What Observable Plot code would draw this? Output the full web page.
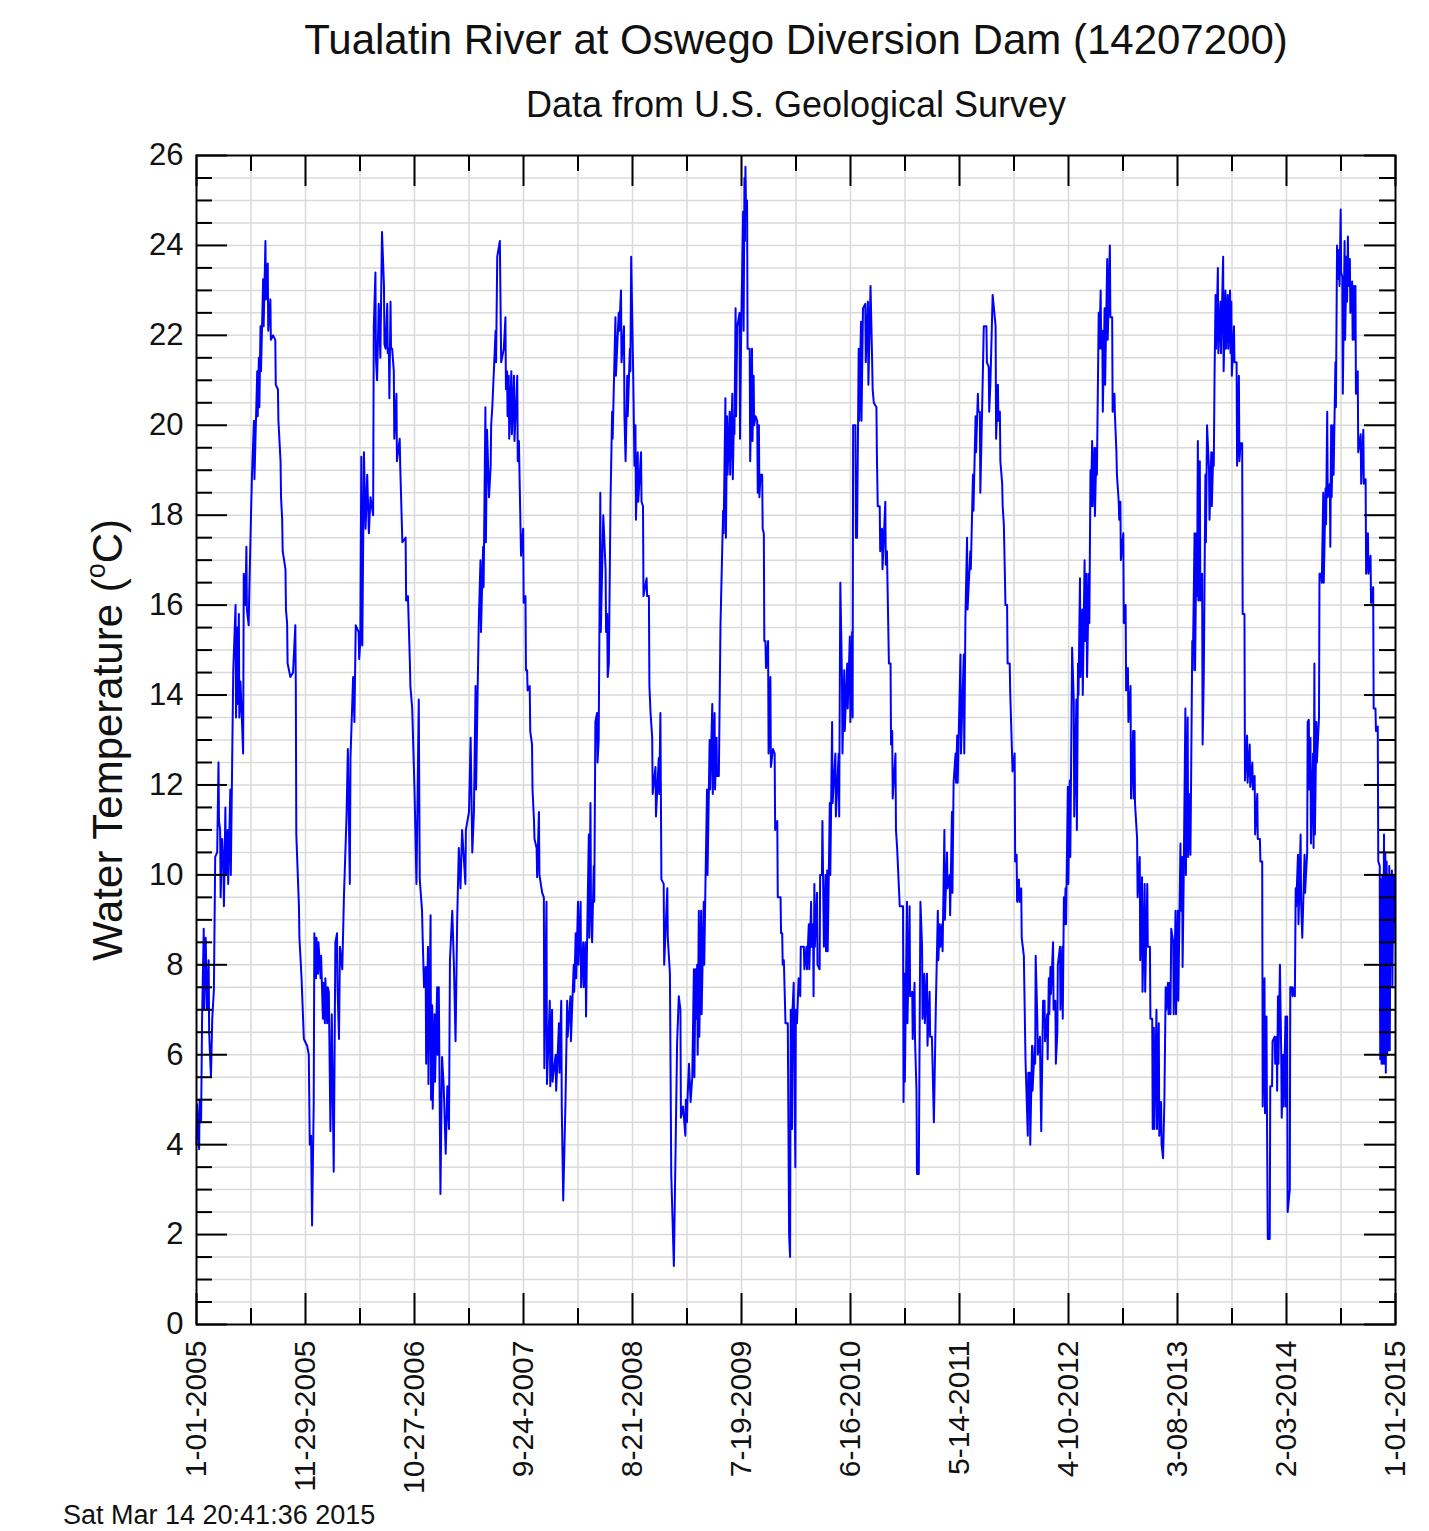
<!DOCTYPE html>
<html><head><meta charset="utf-8">
<script src="https://cdn.jsdelivr.net/npm/d3@7"></script>
<script src="https://cdn.jsdelivr.net/npm/@observablehq/plot@0.6"></script>
<style>
html,body{margin:0;padding:0;background:#fff;overflow:hidden;width:1429px;height:1531px;}
body{font-family:"Liberation Sans",Arial,Helvetica,sans-serif;color:#111;}
#header{position:relative;height:140px;}
.t{position:absolute;white-space:nowrap;transform:translateX(-50%);line-height:1;}
#title{left:796px;top:19px;font-size:42px;}
#subtitle{left:796px;top:87px;font-size:36px;}
#footer{font-size:27px;line-height:1;padding-left:63px;margin-top:-8px;white-space:nowrap;}
#chart svg{display:block;}
</style></head>
<body>
<div id="header"><div id="title" class="t">Tualatin River at Oswego Diversion Dam (14207200)</div><div id="subtitle" class="t">Data from U.S. Geological Survey</div></div>
<div id="chart"></div>
<div id="footer">Sat Mar 14 20:41:36 2015</div>
<script>
// Tick labels (x) and y ticks
const xLabels = ["1-01-2005","11-29-2005","10-27-2006","9-24-2007","8-21-2008","7-19-2009","6-16-2010","5-14-2011","4-10-2012","3-08-2013","2-03-2014","1-01-2015"];
const yMajor = [0,2,4,6,8,10,12,14,16,18,20,22,24,26];

// Water temperature readings: [day since 1-01-2005, value, optional second value a day later]
const t2005 = [[0,4.0,4.9],[8,3.9,5.0],[14,4.5],[17,6.8],[22,8.8,7.0],[28,8.6],[32,7.0],[37,8.1,6.5],[44,5.5],[48,6.8],[53,7.45],[57,10.4],[63,10.5],[67,12.5,11.2],[72,11.0,9.5],[78,10.8],[82,10.2,9.3],[88,11.5,10.0],[95,11.0,9.8],[103,11.9,10.0],[112,14.55],[119,16.0,13.5],[124,15.5,13.8],[129,15.8,13.5],[134,14.3],[142,12.7],[144,16.7],[149,16.0],[152,17.3,15.9],[159,15.55,16.2],[166,18.0],[169,18.9],[175,20.1,18.8],[185,21.2,20.2],[190,21.5,20.4],[195,22.2,21.2],[203,23.25,22.2],[210,24.1,22.8],[217,23.6,22.1],[225,22.8,21.9],[233,22.0],[240,21.9,20.9],[248,20.8,20.1],[256,19.2,18.4],[261,17.9,17.2],[271,16.8,15.9],[276,15.6,14.7],[286,14.4],[294,14.5],[301,15.55,14.2],[304,10.9],[312,9.3,8.6],[320,7.7],[327,6.35],[337,6.2],[342,6.0],[345,4.0],[349,4.2],[352,2.2],[357,4.9],[359,8.7]];
const t2006 = [[364,7.7,8.6],[370,7.8,8.5],[378,7.7,8.2],[385,6.8,7.6],[391,6.7,7.7],[398,6.7,7.5],[403,7.4],[408,4.3],[412,6.9],[418,3.4],[423,8.5],[428,8.7,7.5],[434,6.35],[437,8.4],[444,7.9],[449,9.5],[457,11.3],[461,12.8],[467,9.8],[469,12.6],[477,14.4],[481,13.4],[485,15.55],[494,15.4,14.8],[499,15.2],[502,19.3],[505,15.1],[510,19.4],[515,17.7],[520,18.9],[525,17.6],[530,18.4],[538,18.0],[540,22.2],[545,23.4,21.5],[550,21.0],[555,22.7],[560,21.5],[565,24.3],[571,23.1,21.8],[576,21.7],[581,22.7,21.6],[586,21.7,20.6],[591,22.75,21.7],[596,21.7],[601,21.2,19.7],[609,20.7,19.2],[619,19.7,19.1],[627,17.4],[637,17.5,16.1],[644,16.2],[650,14.7,14.2],[657,13.7],[664,11.9],[670,9.8],[677,13.9],[680,9.9],[687,9.2,8.7],[693,7.5],[698,7.95,5.8],[705,8.4,5.35],[713,9.1,5.0],[718,7.1,4.8],[725,6.9,5.4]];
const t2007 = [[733,7.5,6.0],[738,7.5],[743,2.9],[748,5.95],[753,5.3],[759,3.8],[764,5.3],[769,4.35],[772,8.1],[779,9.2],[784,8.0],[789,6.3],[794,9.0],[799,10.6],[804,9.7],[809,11.0],[819,9.8,11.0],[830,11.4],[835,13.05],[840,10.5],[845,11.4],[850,14.2,11.9],[857,14.4],[860,15.7],[865,17.0,15.4],[873,17.3,16.4],[880,20.4,17.4],[885,19.9],[891,18.4],[896,19.1,20.0],[901,20.4],[911,22.1,21.4],[916,23.75],[924,24.1],[928,21.4],[936,21.7],[941,22.4,20.8],[946,21.2,20.2],[951,21.1,19.7],[959,21.2,19.8],[967,21.1,19.65],[977,21.1,19.2],[982,19.65],[987,17.7,17.1],[995,17.7,16.05],[1002,16.2,14.55],[1007,14.55,14.1],[1015,14.2,13.2],[1022,12.9,11.9],[1028,11.2,10.8],[1036,10.6,9.95],[1043,11.4,10.0],[1053,9.6],[1058,9.5,5.7],[1066,9.4,5.35],[1076,7.2,5.3],[1083,7.0,5.4],[1094,6.0,5.2]];
const t2008 = [[1104,6.7,5.6],[1111,7.2,4.85],[1117,2.76],[1124,5.0],[1129,7.2,6.4],[1139,7.3,6.3],[1149,8.0,7.4],[1155,8.7,7.7],[1162,9.4,8.0],[1170,9.4,7.5],[1178,8.5,7.5],[1185,8.5,6.85],[1190,8.7],[1195,10.9,8.6],[1200,11.6,9.4],[1205,8.5],[1210,10.2,9.4],[1215,13.4],[1220,13.6,12.5],[1225,13.0],[1230,18.5,15.4],[1239,18.0],[1246,16.8,15.4],[1251,15.8,14.4],[1256,14.7],[1261,18.3],[1266,20.3,19.7],[1276,22.4,21.1],[1286,22.5,22.1],[1293,23.0,21.4],[1302,22.2,20.2],[1307,19.2],[1312,21.1,20.2],[1320,21.7,21.2],[1324,23.75],[1330,21.2],[1334,19.1],[1337,20.0,17.9],[1344,19.4,18.3],[1354,19.4,18.3],[1360,18.2,16.2],[1371,16.6,16.2],[1378,16.2,14.2],[1383,13.6],[1388,13.05,11.8],[1398,12.4,11.3],[1408,12.6,11.8],[1413,13.6],[1416,9.9],[1423,9.8,8.0],[1434,9.7,8.6],[1442,7.8],[1446,3.35],[1454,1.3],[1459,3.8]];
const t2009 = [[1464,6.3],[1469,7.3],[1474,7.0,4.6],[1482,4.85],[1489,4.2,5.0],[1494,4.5,5.0],[1500,5.8],[1505,4.95],[1510,5.5],[1515,7.9,5.5],[1520,7.9,6.8],[1525,8.0,6.0],[1530,9.2,6.4],[1537,9.2,6.9],[1545,9.4,8.0],[1550,9.7],[1555,11.9,10.0],[1563,13.0,11.9],[1571,13.8,11.8],[1578,13.6,11.9],[1584,13.05,12.2],[1591,12.2],[1596,15.55],[1604,18.1,17.6],[1611,20.6,17.5],[1616,20.2,18.9],[1624,20.3,18.9],[1632,20.7,18.8],[1637,20.2,19.8],[1642,22.6,20.2],[1647,22.2],[1654,22.5,19.7],[1659,22.1],[1665,24.75,22.1],[1669,25.5,24.1],[1672,25.75,25.0],[1677,25.0,21.7],[1685,21.7,19.2],[1692,21.7,19.65],[1697,21.1,20.0],[1703,20.2],[1708,20.1,18.5],[1713,20.0,18.4],[1718,18.9],[1723,18.9,17.7],[1728,17.6,15.2],[1733,15.2,14.6],[1741,15.2,12.7],[1748,14.4,12.4],[1756,12.8],[1761,12.7,11.0],[1769,11.2,9.5],[1779,9.5,8.7],[1784,8.7,8.0],[1789,8.1],[1794,6.7],[1801,6.7],[1805,2.0],[1808,1.5]];
const t2010 = [[1810,7.0],[1814,4.35,7.0],[1819,7.6],[1824,3.5,7.0],[1829,6.7],[1834,7.7],[1839,7.3,8.4],[1850,8.4,7.9],[1858,8.4,7.9],[1865,8.9,7.9],[1872,9.4,8.4],[1878,8.9,7.3],[1882,9.8,8.4],[1890,9.6,8.0],[1898,7.9,10.0],[1905,10.0,11.2],[1911,8.4],[1916,10.0,8.3],[1921,10.1,8.3],[1929,11.6,10.0],[1936,13.4,11.6],[1946,12.7,11.3],[1956,12.7,11.3],[1961,16.5],[1966,14.4,12.7],[1973,14.55,13.2],[1982,14.7,13.7],[1990,15.3,13.4],[1997,15.4,13.5],[2000,20.0],[2007,20.0,17.5],[2012,17.5],[2017,21.7,20.1],[2024,22.3,20.1],[2030,22.6],[2037,22.7,21.4],[2045,22.75,20.9],[2053,23.1],[2058,21.4,20.8],[2063,20.5],[2071,20.4,19.3],[2075,18.2],[2081,18.2,17.2],[2088,17.7,16.8],[2098,18.3,16.9],[2103,17.2],[2109,14.7],[2114,14.7,12.9],[2119,13.2,11.7],[2129,12.7,11.0],[2134,10.6],[2142,9.3],[2152,9.3,4.95],[2156,7.8,5.4],[2164,9.4,6.7]];
const t2011 = [[2172,9.3,7.3],[2180,7.4,6.35],[2187,7.6,6.35],[2193,5.2,3.35],[2200,3.35,5.2],[2205,9.4],[2210,8.4,6.8],[2217,7.8,6.7],[2225,7.8,6.2],[2233,7.4,6.4],[2240,6.4],[2246,4.5],[2252,7.1],[2258,9.2,8.1],[2264,8.9,8.4],[2271,8.9,8.3],[2278,11.0,9.0],[2286,10.5,9.7],[2294,10.0,9.1],[2301,11.4,9.6],[2306,12.05],[2312,12.7,12.05],[2317,13.1,12.05],[2327,14.9,12.7],[2337,14.9,12.7],[2342,15.7],[2347,17.5,15.9],[2357,17.2,16.8],[2365,18.9,18.1],[2373,20.2,19.4],[2380,20.7,20.3],[2386,20.3,18.5],[2393,20.4],[2398,22.2],[2406,22.2,21.4],[2413,21.3,20.3],[2418,20.9],[2425,22.9],[2434,22.2,19.7],[2441,20.9,20.1],[2447,20.3,19.2],[2454,18.7,18.2],[2459,17.8,17.3],[2464,16.0],[2469,16.0,14.7],[2477,14.7,14.05],[2484,12.7,12.3],[2492,12.7,10.3],[2498,10.45,9.4],[2505,9.9,9.4],[2512,9.7,8.6],[2520,8.2]];
const t2012 = [[2525,5.9],[2532,4.2,5.6],[2538,5.6,4.0],[2545,6.2,5.2],[2553,6.2,5.8],[2556,8.2],[2561,6.8,6.0],[2569,6.4,5.5],[2573,4.3],[2577,6.4,7.2],[2583,7.2,6.3],[2591,6.9,5.9],[2596,7.7,6.9],[2601,7.95,7.35],[2609,8.5,7.0],[2616,7.2,5.8],[2622,6.5,8.0],[2630,8.4,7.0],[2637,8.4,6.8],[2642,9.5,8.9],[2647,9.7,8.9],[2654,11.96,9.8],[2660,12.1,10.4],[2667,15.05],[2672,13.9,11.3],[2680,13.9,11.0],[2685,14.7,14.0],[2691,16.6,14.4],[2698,15.9,14.0],[2705,17.0,15.2],[2711,16.7,14.4],[2718,16.7,15.6],[2723,19.0,18.2],[2728,19.65,18.2],[2735,19.5,17.98],[2741,19.5,18.9],[2748,22.5,21.7],[2754,23.0,21.7],[2759,22.1,20.3],[2766,22.6,20.9],[2774,23.7,21.9],[2782,24.0,22.4],[2789,22.4,20.3],[2796,20.7,20.2],[2802,19.4,18.9],[2809,18.3,17.9],[2814,18.3,17.0],[2823,17.6,15.6],[2830,16.0,14.1],[2837,14.6,13.4],[2845,14.2,11.7],[2853,13.2,11.7],[2857,13.2,11.6],[2865,10.8,9.5],[2873,10.4,8.1],[2880,9.95,7.4]];
const t2013 = [[2888,9.8,7.4],[2896,9.8,8.4],[2904,8.4,6.8],[2911,6.8,4.35],[2916,6.6,4.35],[2924,7.0,4.35],[2931,6.7,4.2],[2938,4.95,4.0],[2944,3.7],[2948,4.95],[2952,7.5,7.0],[2959,7.6,6.9],[2965,7.6,6.9],[2969,8.8],[2975,8.5,6.9],[2982,9.2,6.9],[2989,9.2,7.2],[2997,10.7,9.2],[3002,10.4,7.95],[3007,10.0],[3012,13.7,10.0],[3019,13.5,10.4],[3026,11.8,10.45],[3033,15.2,14.55],[3040,17.6,14.55],[3046,17.6,16.2],[3050,19.65,16.1],[3056,19.2,16.1],[3063,16.7,12.9],[3068,14.4],[3073,18.9,17.4],[3078,20.0],[3084,19.0,17.9],[3091,19.4,18.2],[3097,19.4,19.1],[3101,21.2],[3104,22.9,21.7],[3111,23.5,21.6],[3119,22.75,21.6],[3127,23.75,21.2],[3134,23.0,21.7],[3141,22.9,21.7],[3148,23.0,21.6],[3152,22.75,21.1],[3160,22.2,21.4],[3168,21.4,19.1],[3175,21.1,19.2],[3180,19.6],[3185,19.6,15.8],[3192,15.8,12.1],[3200,13.1,12.05],[3208,12.9,11.96],[3216,12.5,11.9],[3223,12.2,10.9],[3231,11.8,10.8],[3239,10.8,10.3]];
const t2014 = [[3246,10.3,4.85],[3253,7.7,4.7],[3259,6.85,4.7],[3263,1.9],[3269,1.9,5.3],[3276,5.3,6.3],[3284,6.4,5.8],[3290,6.4,5.2],[3294,7.3,5.8],[3300,8.0],[3304,6.0,4.6],[3310,6.0,4.85],[3317,6.85,4.85],[3322,6.85,2.5],[3330,3.0,7.5],[3337,7.5,7.3],[3344,7.5,7.3],[3348,9.7,9.3],[3355,10.45,8.9],[3363,10.9,9.4],[3368,8.6],[3375,10.45,9.6],[3383,10.5,13.4],[3388,13.45,11.9],[3393,13.05,10.7],[3401,12.7,10.6],[3405,14.7,10.9],[3411,13.4,12.5],[3419,13.5,16.7],[3426,16.7,16.5],[3432,18.5,16.5],[3439,18.6,17.8],[3444,20.3,18.4],[3452,18.7,17.3],[3456,20.0,18.4],[3462,20.0,18.9],[3469,21.4,20.4],[3474,24.0,23.25],[3480,23.9,23.1],[3485,24.8,23.4],[3490,23.3,20.7],[3497,24.1,21.9],[3503,23.75,22.75],[3507,24.2,23.1],[3513,23.7,22.5],[3520,23.2,21.9],[3525,23.1,21.9],[3530,23.1,20.7],[3537,21.2,19.4],[3546,19.8,18.7],[3554,19.9,18.7],[3561,18.8,16.7],[3568,17.6,16.7],[3576,17.1,16.05],[3584,16.4,13.7],[3591,13.7,13.2],[3598,13.3,10.3],[3604,10.2,5.9],[3608,9.9,5.8],[3612,10.0,5.8],[3617,10.9,5.8],[3621,10.5,5.6],[3625,10.3,6.0],[3629,10.0,6.1],[3633,10.2,6.1],[3637,10.0,8.0],[3641,10.1,7.5],[3645,10.0,8.5],[3649,10.0]];

const start = Date.UTC(2005, 0, 1);
const toDate = d => new Date(start + d * 864e5);
const data = [];
for (const [d, a, b] of [t2005,t2006,t2007,t2008,t2009,t2010,t2011,t2012,t2013,t2014].flat()) {
  data.push({date: toDate(d), temp: a});
  if (b !== undefined) data.push({date: toDate(d + 1.5), temp: b});
}
const parse = s => { const [m, dd, y] = s.split("-").map(Number); return new Date(Date.UTC(y, m - 1, dd)); };
const xMajor = xLabels.map(parse);
const xMinor = d3.pairs(xMajor).map(([a, b]) => new Date((+a + +b) / 2));
const fmt = d => `${d.getUTCMonth() + 1}-${String(d.getUTCDate()).padStart(2, "0")}-${d.getUTCFullYear()}`;
const yMinor = d3.range(0.5, 26, 0.5).filter(v => v % 2 !== 0);
const yGrid = d3.range(0.5, 26, 0.5);
const xGrid = [...xMajor.slice(1, -1), ...xMinor];

const W = 1429, H = 1370, mL = 196, mR = 34, mT = 15, mB = 186;
const iw = W - mL - mR, ih = H - mT - mB;
const black = {stroke: "#000", strokeWidth: 2};
const plot = Plot.plot({
  width: W, height: H, marginLeft: mL, marginRight: mR, marginTop: mT, marginBottom: mB,
  style: {fontFamily: "'Liberation Sans', Arial, Helvetica, sans-serif", fontSize: "30px", color: "#111", background: "#fff", overflow: "visible"},
  x: {type: "utc", domain: [xMajor[0], xMajor[xMajor.length - 1]]},
  y: {domain: [0, 26]},
  marks: [
    Plot.ruleY(yGrid, {stroke: "#dadada", strokeWidth: 1.5}),
    Plot.ruleX(xGrid, {stroke: "#dadada", strokeWidth: 1.5}),
    Plot.line(data, {x: "date", y: "temp", stroke: "#0000ff", strokeWidth: 2}),
    Plot.ruleY(yMajor, {...black, insetRight: iw - 31}),
    Plot.ruleY(yMajor, {...black, insetLeft: iw - 31}),
    Plot.ruleY(yMinor, {...black, insetRight: iw - 16}),
    Plot.ruleY(yMinor, {...black, insetLeft: iw - 16}),
    Plot.ruleX(xMajor, {...black, insetTop: ih - 31}),
    Plot.ruleX(xMajor, {...black, insetBottom: ih - 31}),
    Plot.ruleX(xMinor, {...black, insetTop: ih - 16}),
    Plot.ruleX(xMinor, {...black, insetBottom: ih - 16}),
    Plot.frame({stroke: "#000", strokeWidth: 2}),
    Plot.axisY(yMajor, {tickSize: 0, tickPadding: 13, fontSize: 31, label: null}),
    Plot.axisX(xMajor, {tickSize: 0, tickPadding: 16, tickRotate: -90, tickFormat: fmt, fontSize: 30, label: null})
  ]
});
document.getElementById("chart").appendChild(plot);

const lab = d3.select(plot).append("text")
  .attr("transform", "translate(122,600) rotate(-90)")
  .attr("text-anchor", "middle")
  .attr("font-size", 42)
  .attr("fill", "#111");
lab.append("tspan").text("Water Temperature (");
lab.append("tspan").attr("font-size", 27).attr("dy", -17).text("o");
lab.append("tspan").attr("dy", 17).text("C)");
</script>
</body></html>
